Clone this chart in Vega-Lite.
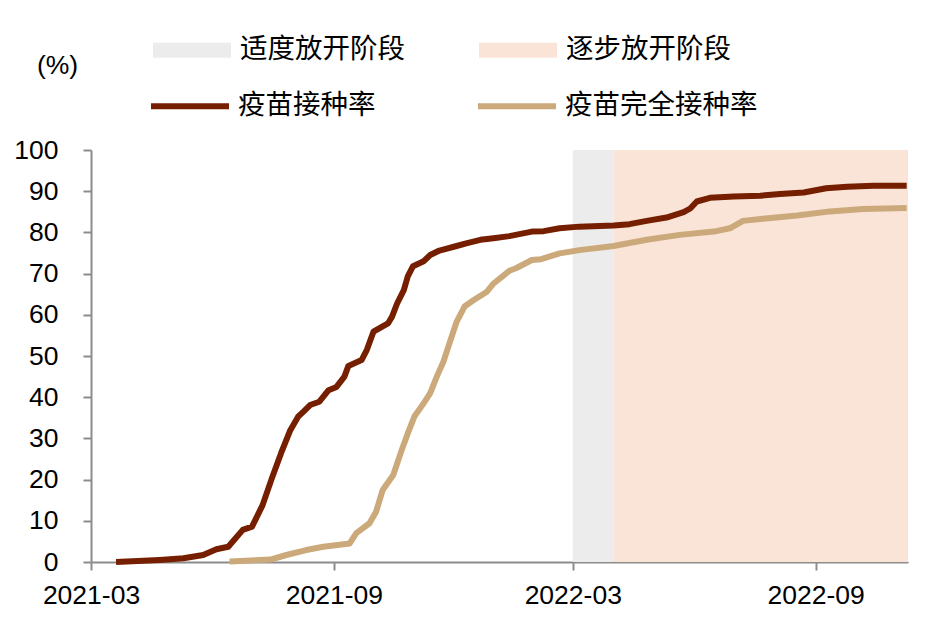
{
  "$schema": "https://vega.github.io/schema/vega-lite/v6.json",
  "width": 817,
  "height": 412,
  "autosize": {"type": "none"},
  "padding": {"left": 91, "top": 150, "right": 28, "bottom": 66},
  "background": "white",
  "config": {
    "view": {"stroke": null},
    "font": "Liberation Sans",
    "axis": {
      "domainColor": "#8C8C8C",
      "domainWidth": 2,
      "tickColor": "#8C8C8C",
      "tickWidth": 2,
      "tickSize": 8,
      "labelColor": "#000000",
      "labelFont": "Liberation Sans",
      "labelFontSize": 26.5,
      "grid": false
    },
    "legend": {
      "padding": 0,
      "labelFont": "Noto Sans CJK SC",
      "labelFontSize": 27.5,
      "labelColor": "#000000",
      "labelLimit": 400,
      "title": null
    }
  },
  "datasets": {
    "phases": [
      {"phase": "适度放开阶段", "start": "2022-03-01", "end": "2022-04-01"},
      {"phase": "逐步放开阶段", "start": "2022-04-01", "end": "2022-11-10"}
    ],
    "rates": [
      {"series": "疫苗接种率", "date": "2021-03-20", "value": 0},
      {"series": "疫苗接种率", "date": "2021-04-22", "value": 0.5},
      {"series": "疫苗接种率", "date": "2021-05-10", "value": 0.9},
      {"series": "疫苗接种率", "date": "2021-05-25", "value": 1.7},
      {"series": "疫苗接种率", "date": "2021-06-04", "value": 3.1},
      {"series": "疫苗接种率", "date": "2021-06-13", "value": 3.7},
      {"series": "疫苗接种率", "date": "2021-06-24", "value": 7.8},
      {"series": "疫苗接种率", "date": "2021-07-01", "value": 8.6},
      {"series": "疫苗接种率", "date": "2021-07-09", "value": 13.8},
      {"series": "疫苗接种率", "date": "2021-07-16", "value": 20.3},
      {"series": "疫苗接种率", "date": "2021-07-23", "value": 26.4},
      {"series": "疫苗接种率", "date": "2021-07-30", "value": 32},
      {"series": "疫苗接种率", "date": "2021-08-05", "value": 35.3},
      {"series": "疫苗接种率", "date": "2021-08-09", "value": 36.5},
      {"series": "疫苗接种率", "date": "2021-08-14", "value": 38.1},
      {"series": "疫苗接种率", "date": "2021-08-21", "value": 38.9},
      {"series": "疫苗接种率", "date": "2021-08-28", "value": 41.7},
      {"series": "疫苗接种率", "date": "2021-09-03", "value": 42.5},
      {"series": "疫苗接种率", "date": "2021-09-09", "value": 45},
      {"series": "疫苗接种率", "date": "2021-09-12", "value": 47.6},
      {"series": "疫苗接种率", "date": "2021-09-22", "value": 49},
      {"series": "疫苗接种率", "date": "2021-09-26", "value": 51.5},
      {"series": "疫苗接种率", "date": "2021-10-01", "value": 55.9},
      {"series": "疫苗接种率", "date": "2021-10-12", "value": 57.9},
      {"series": "疫苗接种率", "date": "2021-10-15", "value": 59.5},
      {"series": "疫苗接种率", "date": "2021-10-19", "value": 62.8},
      {"series": "疫苗接种率", "date": "2021-10-24", "value": 66},
      {"series": "疫苗接种率", "date": "2021-10-27", "value": 69.3},
      {"series": "疫苗接种率", "date": "2021-10-31", "value": 71.8},
      {"series": "疫苗接种率", "date": "2021-11-08", "value": 73},
      {"series": "疫苗接种率", "date": "2021-11-13", "value": 74.5},
      {"series": "疫苗接种率", "date": "2021-11-20", "value": 75.6},
      {"series": "疫苗接种率", "date": "2021-12-03", "value": 76.7},
      {"series": "疫苗接种率", "date": "2021-12-11", "value": 77.4},
      {"series": "疫苗接种率", "date": "2021-12-21", "value": 78.2},
      {"series": "疫苗接种率", "date": "2021-12-31", "value": 78.6},
      {"series": "疫苗接种率", "date": "2022-01-12", "value": 79.1},
      {"series": "疫苗接种率", "date": "2022-01-29", "value": 80.2},
      {"series": "疫苗接种率", "date": "2022-02-07", "value": 80.3},
      {"series": "疫苗接种率", "date": "2022-02-19", "value": 81},
      {"series": "疫苗接种率", "date": "2022-03-06", "value": 81.4},
      {"series": "疫苗接种率", "date": "2022-04-01", "value": 81.7},
      {"series": "疫苗接种率", "date": "2022-04-13", "value": 82},
      {"series": "疫苗接种率", "date": "2022-04-26", "value": 82.8},
      {"series": "疫苗接种率", "date": "2022-05-11", "value": 83.6},
      {"series": "疫苗接种率", "date": "2022-05-24", "value": 84.9},
      {"series": "疫苗接种率", "date": "2022-05-29", "value": 85.8},
      {"series": "疫苗接种率", "date": "2022-06-03", "value": 87.5},
      {"series": "疫苗接种率", "date": "2022-06-13", "value": 88.4},
      {"series": "疫苗接种率", "date": "2022-07-01", "value": 88.7},
      {"series": "疫苗接种率", "date": "2022-07-21", "value": 88.9},
      {"series": "疫苗接种率", "date": "2022-08-05", "value": 89.3},
      {"series": "疫苗接种率", "date": "2022-08-23", "value": 89.7},
      {"series": "疫苗接种率", "date": "2022-09-09", "value": 90.7},
      {"series": "疫苗接种率", "date": "2022-09-25", "value": 91.1},
      {"series": "疫苗接种率", "date": "2022-10-15", "value": 91.3},
      {"series": "疫苗接种率", "date": "2022-11-09", "value": 91.3},
      {"series": "疫苗完全接种率", "date": "2021-06-14", "value": 0.1},
      {"series": "疫苗完全接种率", "date": "2021-07-15", "value": 0.6},
      {"series": "疫苗完全接种率", "date": "2021-07-27", "value": 1.7},
      {"series": "疫苗完全接种率", "date": "2021-08-11", "value": 2.9},
      {"series": "疫苗完全接种率", "date": "2021-08-24", "value": 3.7},
      {"series": "疫苗完全接种率", "date": "2021-09-13", "value": 4.5},
      {"series": "疫苗完全接种率", "date": "2021-09-18", "value": 7},
      {"series": "疫苗完全接种率", "date": "2021-09-28", "value": 9.4},
      {"series": "疫苗完全接种率", "date": "2021-10-03", "value": 12.2},
      {"series": "疫苗完全接种率", "date": "2021-10-08", "value": 17.5},
      {"series": "疫苗完全接种率", "date": "2021-10-16", "value": 21.1},
      {"series": "疫苗完全接种率", "date": "2021-10-22", "value": 26.8},
      {"series": "疫苗完全接种率", "date": "2021-10-27", "value": 31.2},
      {"series": "疫苗完全接种率", "date": "2021-11-01", "value": 35.3},
      {"series": "疫苗完全接种率", "date": "2021-11-08", "value": 38.5},
      {"series": "疫苗完全接种率", "date": "2021-11-13", "value": 41},
      {"series": "疫苗完全接种率", "date": "2021-11-18", "value": 45},
      {"series": "疫苗完全接种率", "date": "2021-11-23", "value": 48.6},
      {"series": "疫苗完全接种率", "date": "2021-11-28", "value": 53.5},
      {"series": "疫苗完全接种率", "date": "2021-12-03", "value": 58.3},
      {"series": "疫苗完全接种率", "date": "2021-12-09", "value": 62},
      {"series": "疫苗完全接种率", "date": "2021-12-16", "value": 63.6},
      {"series": "疫苗完全接种率", "date": "2021-12-26", "value": 65.6},
      {"series": "疫苗完全接种率", "date": "2021-12-31", "value": 67.6},
      {"series": "疫苗完全接种率", "date": "2022-01-07", "value": 69.4},
      {"series": "疫苗完全接种率", "date": "2022-01-12", "value": 70.7},
      {"series": "疫苗完全接种率", "date": "2022-01-17", "value": 71.3},
      {"series": "疫苗完全接种率", "date": "2022-01-29", "value": 73.3},
      {"series": "疫苗完全接种率", "date": "2022-02-05", "value": 73.5},
      {"series": "疫苗完全接种率", "date": "2022-02-19", "value": 74.9},
      {"series": "疫苗完全接种率", "date": "2022-03-06", "value": 75.7},
      {"series": "疫苗完全接种率", "date": "2022-04-01", "value": 76.7},
      {"series": "疫苗完全接种率", "date": "2022-04-26", "value": 78.2},
      {"series": "疫苗完全接种率", "date": "2022-05-21", "value": 79.4},
      {"series": "疫苗完全接种率", "date": "2022-06-16", "value": 80.2},
      {"series": "疫苗完全接种率", "date": "2022-06-28", "value": 81},
      {"series": "疫苗完全接种率", "date": "2022-07-08", "value": 82.8},
      {"series": "疫苗完全接种率", "date": "2022-07-23", "value": 83.3},
      {"series": "疫苗完全接种率", "date": "2022-08-18", "value": 84.1},
      {"series": "疫苗完全接种率", "date": "2022-09-12", "value": 85.1},
      {"series": "疫苗完全接种率", "date": "2022-10-07", "value": 85.7},
      {"series": "疫苗完全接种率", "date": "2022-11-09", "value": 85.9}
    ]
  },
  "layer": [
    {
      "data": {"name": "phases"},
      "mark": {"type": "rect", "strokeWidth": 0},
      "encoding": {
        "x": {
          "field": "start",
          "type": "temporal",
          "scale": {
            "type": "utc",
            "domain": [
              {"year": 2021, "month": 3, "date": 1, "utc": true},
              {"year": 2022, "month": 11, "date": 10, "utc": true}
            ]
          },
          "axis": {
            "title": null,
            "format": "%Y-%m",
            "values": [
              {"year": 2021, "month": 3, "date": 1, "utc": true},
              {"year": 2021, "month": 9, "date": 1, "utc": true},
              {"year": 2022, "month": 3, "date": 1, "utc": true},
              {"year": 2022, "month": 9, "date": 1, "utc": true}
            ],
            "labelPadding": 12,
            "labelFlush": false,
            "labelOverlap": false
          }
        },
        "x2": {"field": "end"},
        "fill": {
          "field": "phase",
          "type": "nominal",
          "scale": {
            "domain": ["适度放开阶段", "逐步放开阶段"],
            "range": ["#ECECEC", "#FAE4D7"]
          },
          "legend": {
            "orient": "none",
            "legendX": 62,
            "legendY": -139,
            "direction": "horizontal",
            "symbolType": "M-1,-0.19H1V0.19H-1Z",
            "symbolSize": 6084,
            "symbolStrokeWidth": 0,
            "symbolOpacity": 1,
            "labelOffset": 9,
            "columnPadding": 74
          }
        }
      }
    },
    {
      "data": {"name": "rates"},
      "mark": {"type": "line", "strokeWidth": 6, "strokeJoin": "round"},
      "encoding": {
        "x": {"field": "date", "type": "temporal"},
        "y": {
          "field": "value",
          "type": "quantitative",
          "scale": {"domain": [0, 100], "nice": false, "zero": true},
          "axis": {
            "values": [0, 10, 20, 30, 40, 50, 60, 70, 80, 90, 100],
            "title": "(%)",
            "titleAngle": 0,
            "titleX": -34,
            "titleY": -85,
            "titleAlign": "center",
            "titleBaseline": "middle",
            "titleFont": "Liberation Sans",
            "titleFontSize": 26.5,
            "titleFontWeight": "normal",
            "titleColor": "#000000",
            "labelPadding": 25
          }
        },
        "stroke": {
          "field": "series",
          "type": "nominal",
          "scale": {
            "domain": ["疫苗接种率", "疫苗完全接种率"],
            "range": ["#761E00", "#CCA97A"]
          },
          "legend": {
            "orient": "none",
            "legendX": 57,
            "legendY": -86,
            "direction": "horizontal",
            "symbolType": "stroke",
            "symbolSize": 6084,
            "symbolStrokeWidth": 6,
            "labelOffset": 6,
            "columnPadding": 90
          }
        }
      }
    }
  ]
}
